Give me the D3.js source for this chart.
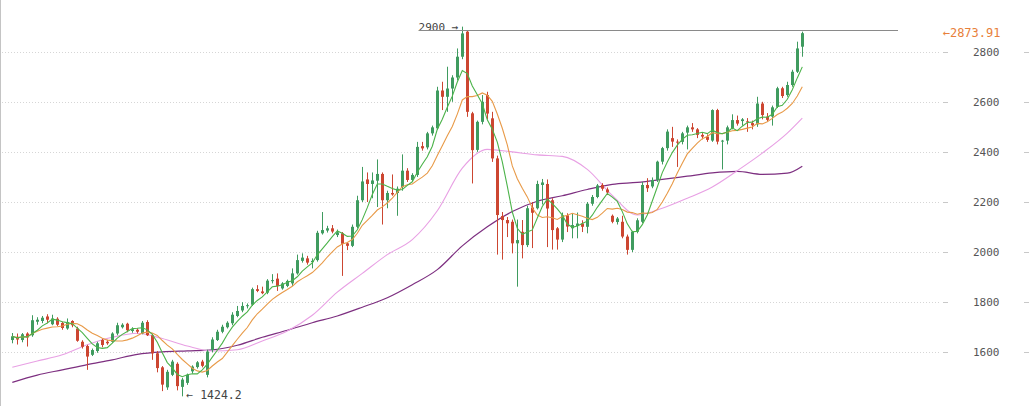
<!DOCTYPE html>
<html><head><meta charset="utf-8">
<script src="https://cdn.jsdelivr.net/npm/d3@7"></script>
<style>html,body{margin:0;padding:0;background:#fff;overflow:hidden}</style>
</head><body><svg id="c" width="1029" height="406"></svg>
<script>
const opens=[1649,1662,1649,1675,1668,1722,1725,1743,1712,1734,1717,1695,1725,1695,1642,1625,1590,1605,1649,1642,1642,1675,1700,1714,1685,1690,1675,1721,1668,1596,1540,1460,1510,1554,1462,1478,1524,1541,1563,1510,1609,1649,1682,1700,1716,1745,1767,1785,1790,1852,1843,1838,1884,1894,1855,1865,1875,1915,1965,1975,1960,1968,2075,2086,2095,2068,2075,2035,2025,2101,2207,2290,2272,2285,2312,2207,2236,2236,2260,2325,2288,2308,2423,2418,2474,2494,2645,2620,2653,2697,2780,2880,2554,2408,2520,2627,2534,2374,2144,2128,2121,2035,2081,2028,2178,2175,2268,2272,2207,2095,2050,2147,2095,2104,2114,2101,2193,2220,2268,2250,2145,2120,2121,2062,2009,2081,2121,2268,2262,2288,2361,2415,2455,2441,2440,2477,2498,2490,2468,2461,2445,2567,2441,2445,2495,2527,2523,2522,2515,2510,2593,2541,2541,2580,2654,2627,2667,2720,2820];
const highs=[1677,1675,1677,1680,1748,1740,1745,1752,1750,1740,1722,1735,1728,1702,1648,1630,1615,1642,1655,1650,1680,1718,1716,1718,1700,1696,1725,1728,1675,1605,1545,1530,1570,1560,1498,1515,1548,1565,1570,1610,1660,1690,1710,1724,1760,1785,1800,1795,1858,1868,1862,1892,1912,1915,1880,1890,1935,1990,1995,1985,1975,2085,2160,2105,2108,2090,2080,2040,2110,2225,2340,2318,2318,2370,2318,2245,2310,2262,2390,2335,2315,2440,2440,2480,2505,2660,2680,2740,2706,2813,2900,2885,2560,2525,2627,2640,2560,2385,2160,2140,2130,2130,2128,2185,2200,2285,2292,2290,2215,2100,2158,2155,2154,2158,2127,2200,2228,2272,2275,2258,2150,2140,2145,2070,2085,2135,2280,2295,2298,2365,2420,2490,2500,2450,2480,2505,2515,2495,2475,2470,2570,2572,2448,2505,2550,2545,2535,2535,2525,2620,2600,2555,2585,2660,2660,2680,2728,2840,2880];
const lows=[1636,1631,1640,1623,1662,1710,1716,1716,1708,1705,1690,1690,1700,1642,1615,1530,1585,1598,1620,1630,1638,1668,1695,1680,1678,1675,1672,1665,1570,1520,1445,1450,1505,1448,1424.2,1470,1515,1535,1540,1500,1600,1645,1676,1695,1708,1740,1760,1775,1785,1840,1832,1832,1875,1845,1850,1860,1865,1910,1958,1950,1935,1962,2070,2078,2075,2060,1905,2008,2020,2095,2200,2200,2215,2180,2110,2175,2225,2145,2245,2280,2280,2300,2405,2410,2465,2488,2567,2560,2600,2685,2770,2540,2274,2400,2510,2530,2360,1990,1970,2060,1995,1862,1975,2020,2016,2170,2190,2020,2010,2010,2040,2080,2055,2055,2080,2075,2185,2215,2245,2228,2115,2110,2055,1990,2000,2075,2115,2240,2255,2280,2350,2405,2420,2340,2430,2410,2480,2455,2450,2440,2440,2430,2330,2430,2490,2505,2505,2480,2490,2500,2530,2520,2505,2575,2615,2620,2660,2715,2780];
const closes=[1664,1651,1672,1659,1728,1730,1738,1730,1735,1710,1697,1721,1708,1646,1622,1583,1609,1636,1629,1636,1675,1708,1710,1688,1692,1682,1718,1668,1596,1537,1471,1522,1563,1465,1491,1510,1543,1560,1546,1603,1651,1682,1702,1718,1750,1765,1785,1788,1852,1845,1836,1886,1888,1865,1875,1885,1915,1968,1978,1958,1965,2077,2088,2095,2082,2079,2033,2025,2101,2207,2282,2272,2286,2312,2207,2236,2230,2253,2325,2288,2308,2420,2414,2474,2498,2645,2620,2653,2697,2780,2873,2560,2407,2520,2600,2553,2374,2148,2128,2115,2035,2048,2028,2175,2157,2272,2278,2174,2088,2050,2147,2102,2108,2114,2101,2193,2220,2266,2253,2238,2121,2134,2062,2009,2081,2127,2268,2255,2288,2361,2415,2481,2441,2438,2474,2498,2490,2468,2461,2448,2567,2441,2445,2498,2527,2513,2530,2518,2506,2593,2547,2528,2578,2654,2623,2667,2720,2813,2873.91];
const maIdx=[0,5,10,15,20,25,30,35,40,45,50,55,60,65,70,75,80,85,90,95,100,105,110,115,120,125,130,135,140,145,150,155,158];
const ma30=[1540,1565,1590,1630,1660,1676,1655,1625,1605,1610,1645,1685,1748,1840,1915,1990,2050,2165,2335,2410,2400,2388,2382,2330,2226,2148,2175,2215,2260,2325,2395,2475,2535];
const ma60=[1480,1509,1530,1551,1570,1592,1602,1606,1610,1628,1660,1688,1718,1745,1780,1818,1870,1930,2025,2101,2162,2203,2225,2250,2270,2278,2290,2303,2316,2322,2310,2315,2343];
const yTicks=[1600,1800,2000,2200,2400,2600,2800];

const W=1029,H=406;
const svg=d3.select('#c');
const idx=d3.range(closes.length);
const x=d3.scaleBand().domain(idx).range([9.8,804.8]);
const cx=i=>x(i)+x.bandwidth()/2;
const y=d3.scaleLinear().domain([1600,2800]).range([352.3,51.7]);
const mono='"DejaVu Sans Mono", monospace';

// left border
svg.append('line').attr('x1',0.5).attr('x2',0.5).attr('y1',0).attr('y2',H).attr('stroke','#c4c4c4');

// grid + axis
const g=svg.append('g');
yTicks.forEach(t=>{
  const yy=Math.round(y(t))+0.5;
  g.append('line').attr('x1',2).attr('x2',940).attr('y1',yy).attr('y2',yy)
   .attr('stroke','#d6d6d6').attr('stroke-dasharray','1,2');
  g.append('line').attr('x1',943).attr('x2',948).attr('y1',yy).attr('y2',yy).attr('stroke','#c8c8c8');
  g.append('line').attr('x1',1024).attr('x2',1029).attr('y1',yy).attr('y2',yy).attr('stroke','#c8c8c8');
  g.append('text').attr('x',999.5).attr('y',y(t)).attr('dy','0.35em').attr('text-anchor','end')
   .attr('font-family',mono).attr('font-size','11px').attr('fill','#555').text(t);
});

// MAs
function ma(n){return closes.map((c,i)=>{const s=closes.slice(Math.max(0,i-n+1),i+1);return d3.mean(s);});}
const ma5=ma(5), ma10=ma(10);
const lineIdx=d3.line().x((d,i)=>cx(i)).y(d=>y(d));
const lineS=d3.line().x(d=>cx(d[0])).y(d=>y(d[1])).curve(d3.curveMonotoneX);
svg.append('path').attr('d',lineS(maIdx.map((k,j)=>[k,ma60[j]]))).attr('fill','none').attr('stroke','#7d2f80').attr('stroke-width',1.2);
svg.append('path').attr('d',lineS(maIdx.map((k,j)=>[k,ma30[j]]))).attr('fill','none').attr('stroke','#e8a0e4').attr('stroke-width',1.1);

// candles
const up='#3f9b5f', dn='#cc4631';
const cg=svg.append('g');
idx.forEach(i=>{
  const col=closes[i]>=opens[i]?up:dn;
  const xc=Math.round(cx(i))+0.5;
  cg.append('line').attr('x1',xc).attr('x2',xc).attr('y1',y(highs[i])).attr('y2',y(lows[i])).attr('stroke',col).attr('stroke-width',1);
  const top=y(Math.max(opens[i],closes[i])), bot=y(Math.min(opens[i],closes[i]));
  cg.append('rect').attr('x',xc-1.5).attr('width',3).attr('y',top).attr('height',Math.max(1,bot-top)).attr('fill',col);
});

svg.append('path').attr('d',lineIdx(ma10)).attr('fill','none').attr('stroke','#e89a48').attr('stroke-width',1.1);
svg.append('path').attr('d',lineIdx(ma5)).attr('fill','none').attr('stroke','#4cb34a').attr('stroke-width',1.1);

// annotations
const iMax=d3.maxIndex(highs), iMin=d3.minIndex(lows);
const tMax=svg.append('text').attr('x',cx(iMax)-4).attr('y',y(highs[iMax])).attr('dy','0.35em').attr('text-anchor','end')
  .attr('font-family',mono).attr('font-size','11px').attr('fill','#444').text(highs[iMax]+' \u2192');
const wMax=tMax.node().getComputedTextLength();
svg.append('line').attr('x1',cx(iMax)-4-wMax).attr('x2',898).attr('y1',Math.round(y(highs[iMax])+3.6)+0.5).attr('y2',Math.round(y(highs[iMax])+3.6)+0.5).attr('stroke','#8a8a8a');
svg.append('text').attr('x',cx(iMin)+4).attr('y',y(lows[iMin])-1).attr('dy','0.35em')
  .attr('font-family',mono).attr('font-size','11.5px').attr('fill','#444').text('\u2190 '+lows[iMin]);
svg.append('text').attr('x',942.7).attr('y',y(closes[closes.length-1])).attr('dy','0.35em')
  .attr('font-family',mono).attr('font-size','12px').attr('fill','#e8803a').text('\u2190'+closes[closes.length-1]);
</script></body></html>
